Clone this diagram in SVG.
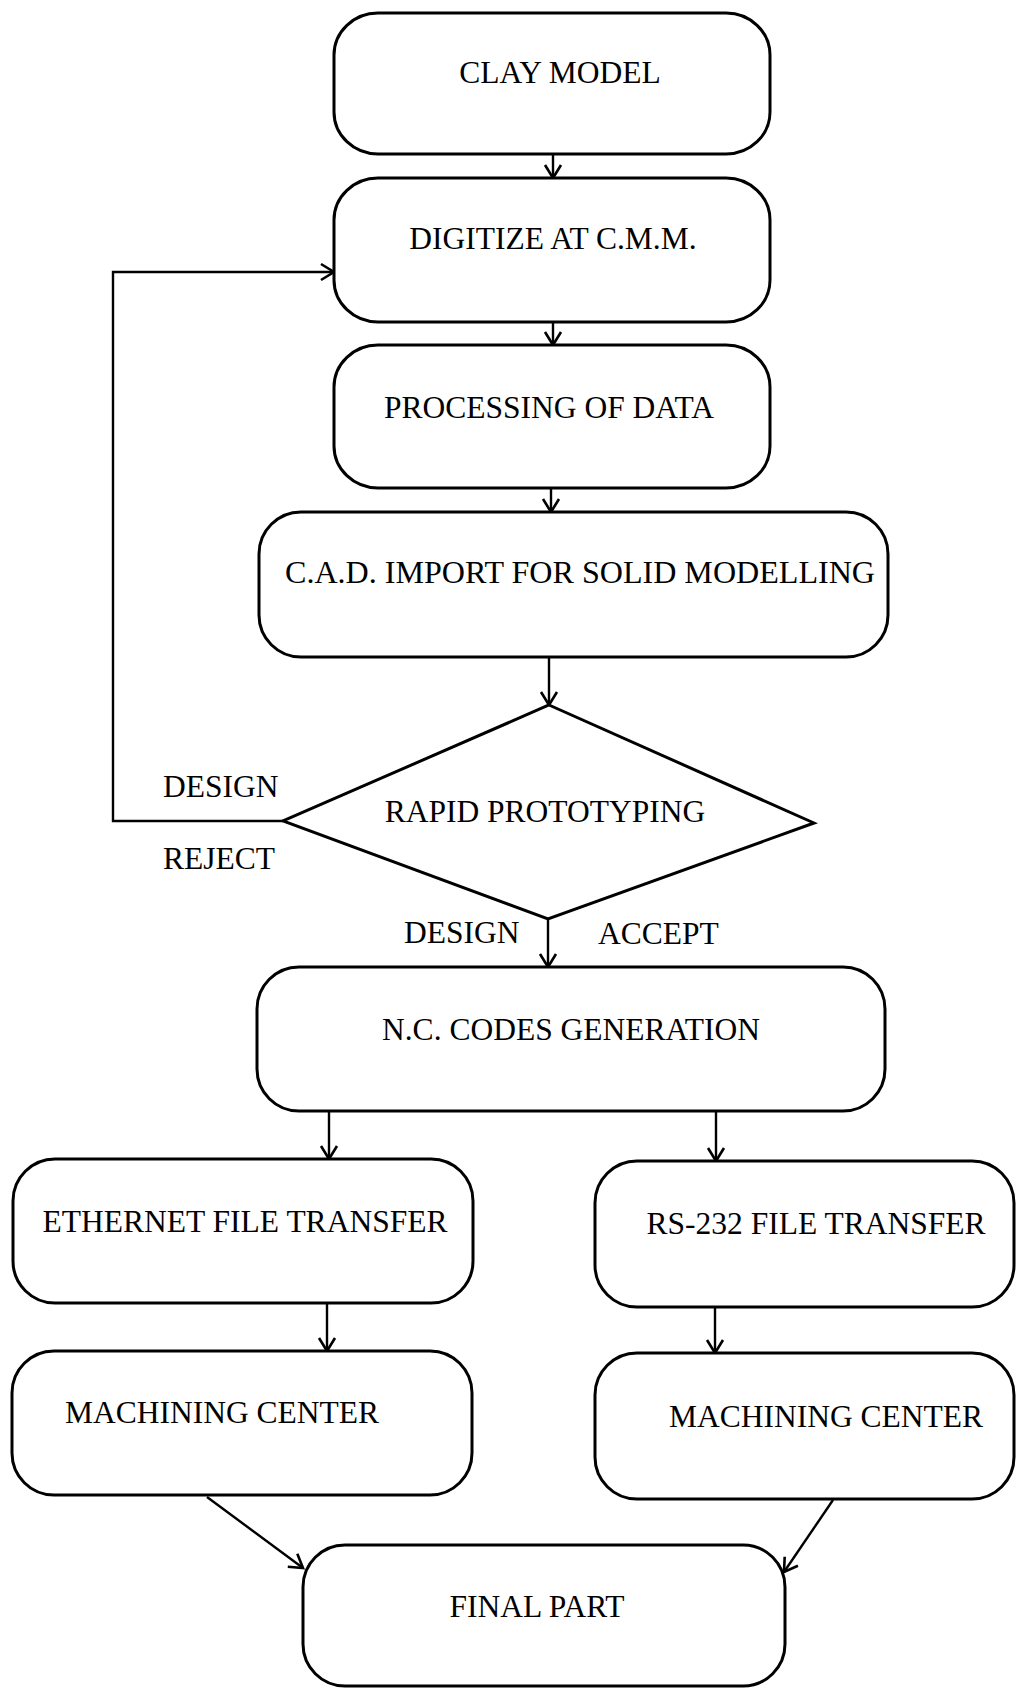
<svg xmlns="http://www.w3.org/2000/svg" width="1016" height="1689" viewBox="0 0 1016 1689">
<style>
.box{fill:#fff;stroke:#000;stroke-width:3}
.lbl{font-family:"Liberation Serif","Times New Roman",serif;font-size:31.5px;fill:#000}
.mid{text-anchor:middle}
.con{fill:none;stroke:#000;stroke-width:2.4}
</style>
<defs>
<marker id="ah" markerUnits="userSpaceOnUse" markerWidth="18" markerHeight="22" refX="14" refY="10" orient="auto">
<path d="M1,2 L14,10 L1,18" fill="none" stroke="#000" stroke-width="2.6"/>
</marker>
</defs>
<rect width="1016" height="1689" fill="#fff"/>
<g id="connectors">
<line class="con" x1="553" y1="154" x2="553" y2="178" marker-end="url(#ah)"/>
<line class="con" x1="553" y1="322" x2="553" y2="345" marker-end="url(#ah)"/>
<line class="con" x1="551" y1="488" x2="551" y2="512" marker-end="url(#ah)"/>
<line class="con" x1="549" y1="657" x2="549" y2="705" marker-end="url(#ah)"/>
<line class="con" x1="548" y1="919" x2="548" y2="967" marker-end="url(#ah)"/>
<line class="con" x1="329" y1="1111" x2="329" y2="1159" marker-end="url(#ah)"/>
<line class="con" x1="716" y1="1111" x2="716" y2="1161" marker-end="url(#ah)"/>
<line class="con" x1="327" y1="1303" x2="327" y2="1351" marker-end="url(#ah)"/>
<line class="con" x1="715" y1="1307" x2="715" y2="1353" marker-end="url(#ah)"/>
<line class="con" x1="207" y1="1497" x2="303" y2="1568" marker-end="url(#ah)"/>
<line class="con" x1="833" y1="1500" x2="784" y2="1572" marker-end="url(#ah)"/>
<polyline class="con" points="283,821 113,821 113,272 334,272" marker-end="url(#ah)"/>
<text class="lbl" x="163" y="797">DESIGN</text>
<text class="lbl" x="163" y="869">REJECT</text>
<text class="lbl" x="404" y="943">DESIGN</text>
<text class="lbl" x="598" y="944">ACCEPT</text>
</g>
<g id="clay-model">
<rect class="box" x="334" y="13" width="436" height="141" rx="44" ry="42"/>
<text class="lbl mid" x="560" y="83">CLAY MODEL</text>
</g>
<g id="digitize">
<rect class="box" x="334" y="178" width="436" height="144" rx="44" ry="42"/>
<text class="lbl mid" x="553" y="249">DIGITIZE AT C.M.M.</text>
</g>
<g id="processing">
<rect class="box" x="334" y="345" width="436" height="143" rx="44" ry="42"/>
<text class="lbl mid" x="549" y="418">PROCESSING OF DATA</text>
</g>
<g id="cad-import">
<rect class="box" x="259" y="512" width="629" height="145" rx="42" ry="42"/>
<text class="lbl mid" x="580" y="583" textLength="590" lengthAdjust="spacingAndGlyphs">C.A.D. IMPORT FOR SOLID MODELLING</text>
</g>
<g id="rapid-prototyping">
<polygon class="box" points="549,705 814,823 548,919 283,821"/>
<text class="lbl mid" x="545" y="822">RAPID PROTOTYPING</text>
</g>
<g id="nc-codes">
<rect class="box" x="257" y="967" width="628" height="144" rx="42" ry="42"/>
<text class="lbl mid" x="571" y="1040">N.C. CODES GENERATION</text>
</g>
<g id="ethernet">
<rect class="box" x="13" y="1159" width="460" height="144" rx="42" ry="42"/>
<text class="lbl mid" x="245" y="1232">ETHERNET FILE TRANSFER</text>
</g>
<g id="rs232">
<rect class="box" x="595" y="1161" width="419" height="146" rx="42" ry="42"/>
<text class="lbl mid" x="816" y="1234">RS-232 FILE TRANSFER</text>
</g>
<g id="machining-left">
<rect class="box" x="12" y="1351" width="460" height="144" rx="42" ry="42"/>
<text class="lbl mid" x="222" y="1423">MACHINING CENTER</text>
</g>
<g id="machining-right">
<rect class="box" x="595" y="1353" width="419" height="146" rx="42" ry="42"/>
<text class="lbl mid" x="826" y="1427">MACHINING CENTER</text>
</g>
<g id="final-part">
<rect class="box" x="303" y="1545" width="482" height="141" rx="42" ry="42"/>
<text class="lbl mid" x="537" y="1617">FINAL PART</text>
</g>
</svg>
